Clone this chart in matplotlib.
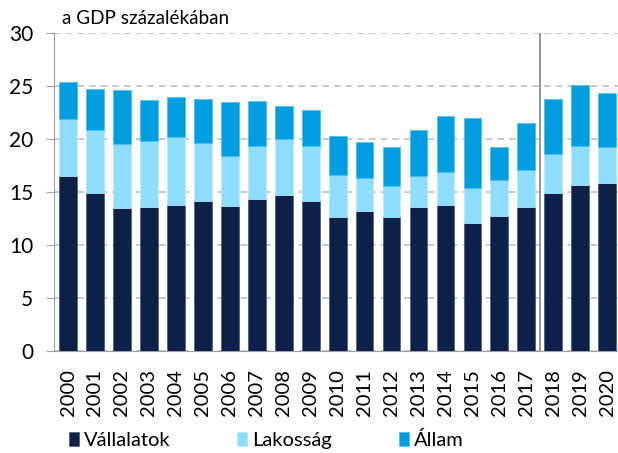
import matplotlib.pyplot as plt
import numpy as np

years = [str(y) for y in range(2000, 2021)]
vallalatok = [16.5, 14.95, 13.45, 13.6, 13.75, 14.15, 13.7, 14.3, 14.75, 14.15,
              12.6, 13.25, 12.65, 13.55, 13.8, 12.1, 12.75, 13.6, 14.9, 15.7, 15.85]
total_lak = [21.85, 20.85, 19.5, 19.85, 20.2, 19.6, 18.4, 19.3, 20.0, 19.3,
             16.6, 16.35, 15.55, 16.5, 16.85, 15.35, 16.15, 17.1, 18.55, 19.35, 19.25]
total = [25.4, 24.75, 24.65, 23.65, 23.95, 23.8, 23.5, 23.55, 23.15, 22.7,
         20.25, 19.7, 19.25, 20.85, 22.15, 21.95, 19.2, 21.5, 23.8, 25.1, 24.35]

lakossag = [b - a for a, b in zip(vallalatok, total_lak)]
allam = [b - a for a, b in zip(total_lak, total)]

c_vall = '#0D2049'
c_lak = '#8FDDFC'
c_all = '#009EDF'

plt.rcParams['font.family'] = ['Lato', 'DejaVu Sans']
fs = 14.5

fig = plt.figure(figsize=(6.18, 4.53), dpi=100)
ax = fig.add_axes([54/618, 102/453, 564/618, 318/453])

x = np.arange(len(years))
w = 0.66
ax.bar(x, vallalatok, w, color=c_vall, edgecolor='#4A5A78', linewidth=0.5, label='Vállalatok', zorder=3)
ax.bar(x, lakossag, w, bottom=vallalatok, color=c_lak, edgecolor='#B5E9FD', linewidth=0.5, label='Lakosság', zorder=3)
ax.bar(x, allam, w, bottom=total_lak, color=c_all, edgecolor='#4DBCE9', linewidth=0.5, label='Állam', zorder=3)

ax.axvline(17.5, color='#808080', linewidth=1.2, zorder=4)

ax.set_ylim(0, 30)
ax.set_xlim(-0.52, 20.4)
ax.set_yticks(range(0, 31, 5))
ax.yaxis.grid(True, linestyle=(0, (4, 3)), color='#BFBFBF', linewidth=1.2, zorder=0)
ax.set_xticks(x)
ax.set_xticklabels(years, rotation=90, fontsize=fs)
ax.tick_params(axis='y', labelsize=15, length=6, color='#A0A0A0', pad=9)
ax.tick_params(axis='x', length=0, pad=13)
for s in ['top', 'right']:
    ax.spines[s].set_visible(False)
ax.spines['left'].set_color('#A0A0A0')
ax.spines['bottom'].set_color('#A0A0A0')

fig.text(62/618, 1 - 18/453, 'a GDP százalékában', fontsize=13.6, va='center', ha='left')

ax.legend(loc='center left', bbox_to_anchor=(69/618, 1 - 440/453),
          bbox_transform=fig.transFigure, ncol=3, frameon=False,
          fontsize=fs, handlelength=0.5, handleheight=0.7, handletextpad=0.25,
          columnspacing=3.3, borderpad=0, borderaxespad=0)

fig.savefig('out.png', dpi=100)
